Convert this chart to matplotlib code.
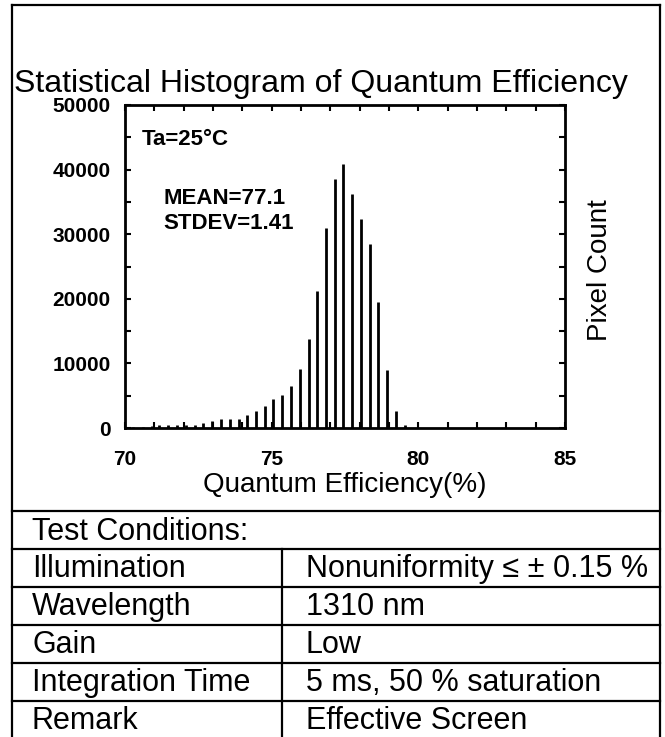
import numpy as np
import matplotlib
matplotlib.use("Agg")
import matplotlib.pyplot as plt
from matplotlib.lines import Line2D
from matplotlib.ticker import MultipleLocator

plt.rcParams['font.family'] = ['Liberation Sans', 'DejaVu Sans']

# histogram (bin centre in %, pixel count)
qe = [70.28, 70.60, 70.91, 71.17, 71.48, 71.78, 72.07, 72.39, 72.67, 72.96,
      73.26, 73.58, 73.89, 74.17, 74.47, 74.76, 75.06, 75.36, 75.66, 75.97,
      76.26, 76.56, 76.85, 77.15, 77.44, 77.75, 78.05, 78.35, 78.64, 78.93,
      79.24, 79.54]
counts = [150, 200, 350, 500, 500, 500, 500, 520, 700, 1030,
          1420, 1460, 1460, 2060, 2680, 3480, 4450, 5180, 6550, 9100,
          13780, 21200, 31000, 38500, 40800, 36300, 32300, 28500, 19500, 9000,
          2700, 500]

row_names = ["Illumination", "Wavelength", "Gain", "Integration Time", "Remark"]
row_values = ["Nonuniformity \u2264 \u00b1 0.15 %", "1310 nm", "Low",
              "5 ms, 50 % saturation", "Effective Screen"]

W, H = 665, 737
fig = plt.figure(figsize=(W / 100, H / 100), dpi=100)
fig.patch.set_facecolor("white")

def fx(x):
    return x / W

def fy(y):
    return 1 - y / H

def hline(y, x0, x1, lw=1.6):
    fig.add_artist(Line2D([fx(x0), fx(x1)], [fy(y), fy(y)], color="black", lw=lw,
                          transform=fig.transFigure))

def vline(x, y0, y1, lw=1.6):
    fig.add_artist(Line2D([fx(x), fx(x)], [fy(y0), fy(y1)], color="black", lw=lw,
                          transform=fig.transFigure))

# chart area
ax = fig.add_axes([fx(125), fy(428), fx(565) - fx(125), fy(105) - fy(428)])
ax.vlines(qe, 0, counts, color="black", lw=2.0)
ax.set_xlim(70, 85)
ax.set_ylim(0, 50000)
ax.xaxis.set_major_locator(MultipleLocator(5))
ax.xaxis.set_minor_locator(MultipleLocator(1))
ax.yaxis.set_major_locator(MultipleLocator(10000))
ax.yaxis.set_minor_locator(MultipleLocator(5000))
ax.tick_params(which="both", direction="in", top=True, right=True, length=4, width=1.5)
ax.tick_params(axis="x", labelsize=15, pad=16)
ax.tick_params(axis="y", labelsize=15, pad=10.5)
for lab in ax.get_xticklabels() + ax.get_yticklabels():
    lab.set_fontweight("bold")
for sp in ax.spines.values():
    sp.set_linewidth(2)

ax.text(0.038, 0.892, "Ta=25\u00b0C", transform=ax.transAxes, fontsize=16,
        fontweight="bold", va="center")
ax.text(0.088, 0.712, "MEAN=77.1", transform=ax.transAxes, fontsize=16,
        fontweight="bold", va="center")
ax.text(0.088, 0.632, "STDEV=1.41", transform=ax.transAxes, fontsize=16,
        fontweight="bold", va="center")

fig.text(fx(345), fy(485), "Quantum Efficiency(%)", fontsize=20, ha="center", va="center")
fig.text(fx(600), fy(270), "Pixel Count", fontsize=20, rotation=90, ha="center", va="center")
fig.text(fx(14), fy(92), "Statistical Histogram of Quantum Efficiency", fontsize=23,
         ha="left", va="baseline")

# outer frame and conditions table
hline(5, 12, 660)
vline(12, 5, 740)
vline(660, 5, 740)
for y in [510.7, 549.3, 587.3, 625, 663.3, 701]:
    hline(y, 12, 660)
vline(282, 549.3, 740)

fig.text(fx(32), fy(540), "Test Conditions:", fontsize=22, va="baseline")
for i, (name, val) in enumerate(zip(row_names, row_values)):
    base = 577 + 38 * i
    fig.text(fx(32), fy(base), name, fontsize=22, va="baseline")
    fig.text(fx(306), fy(base), val, fontsize=22, va="baseline")

fig.savefig("out.png", dpi=100)
